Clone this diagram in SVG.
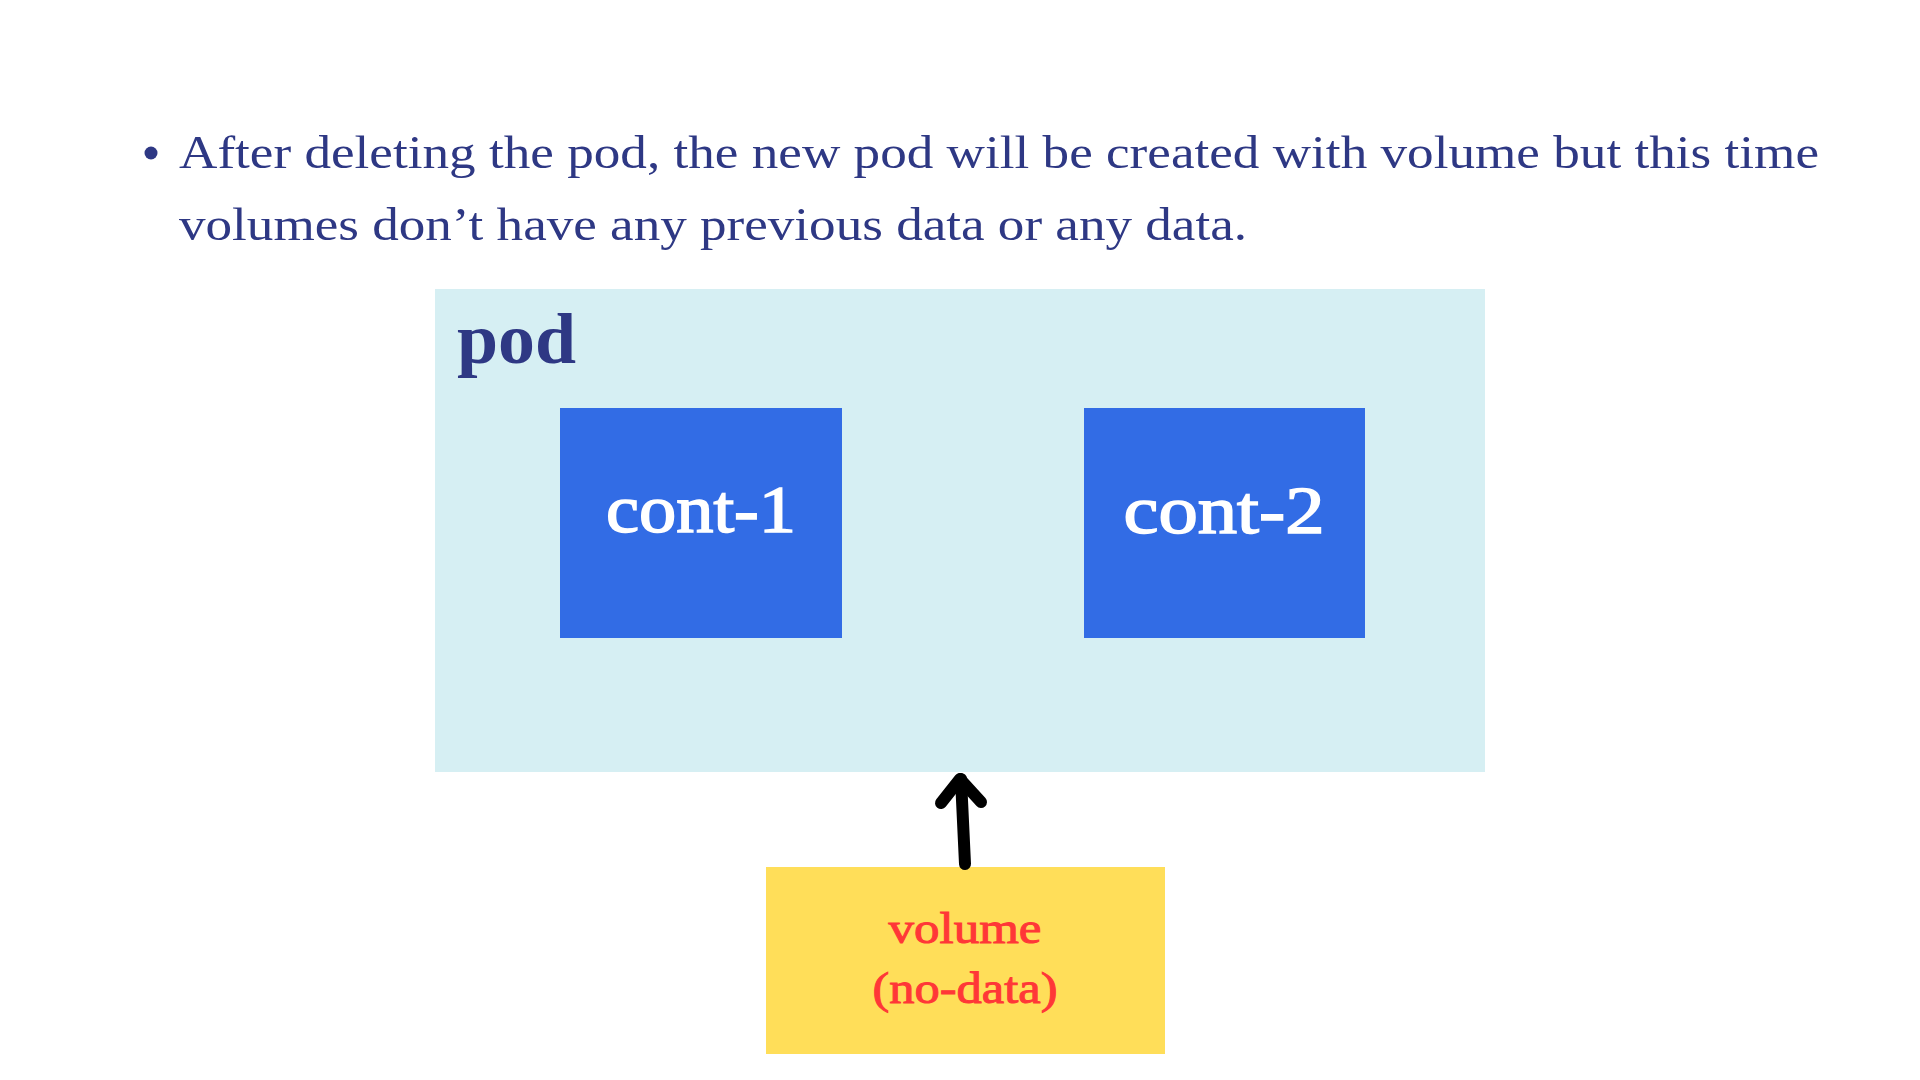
<svg xmlns="http://www.w3.org/2000/svg" width="1920" height="1080" viewBox="0 0 1920 1080">
<style>
.body{font-family:"Liberation Serif","DejaVu Serif",serif;font-size:46px;fill:#2e3884}
.pod{font-family:"Liberation Serif","DejaVu Serif",serif;font-size:72px;font-weight:bold;fill:#2e3884}
.cont{font-family:"Liberation Serif","DejaVu Serif",serif;font-size:68px;fill:#ffffff;stroke:#ffffff;stroke-width:1.6;text-anchor:middle}
.vol{font-family:"Liberation Serif","DejaVu Serif",serif;font-size:44px;fill:#ff3737;stroke:#ff3737;stroke-width:1;text-anchor:middle}
.contbox{fill:#326ce5}
</style>
<rect width="1920" height="1080" fill="#ffffff"/>
<g id="caption">
<circle cx="151" cy="153" r="6.5" fill="#2e3884"/>
<text class="body" x="179" y="168" textLength="1640" lengthAdjust="spacingAndGlyphs">After deleting the pod, the new pod will be created with volume but this time</text>
<text class="body" x="179" y="240" textLength="1068" lengthAdjust="spacingAndGlyphs">volumes don’t have any previous data or any data.</text>
</g>
<g id="pod">
<rect x="435" y="289" width="1050" height="483" fill="#d6eff3"/>
<text class="pod" x="457" y="363" textLength="119" lengthAdjust="spacingAndGlyphs">pod</text>
</g>
<g id="cont-1">
<rect class="contbox" x="560" y="408" width="282" height="230"/>
<text class="cont" x="701" y="532" textLength="190" lengthAdjust="spacingAndGlyphs">cont-1</text>
</g>
<g id="cont-2">
<rect class="contbox" x="1084" y="408" width="281" height="230"/>
<text class="cont" x="1224" y="533" textLength="201" lengthAdjust="spacingAndGlyphs">cont-2</text>
</g>
<g id="volume">
<rect x="766" y="867" width="399" height="187" fill="#ffde59"/>
<text class="vol" x="965" y="943" textLength="153" lengthAdjust="spacingAndGlyphs">volume</text>
<text class="vol" x="965" y="1003" textLength="185" lengthAdjust="spacingAndGlyphs">(no-data)</text>
</g>
<g id="connectors" fill="none" stroke="#000000" stroke-width="12" stroke-linecap="round" stroke-linejoin="round">
<path d="M965 864 L961 779"/>
<path d="M941 803 L960 779 L981 802"/>
</g>
</svg>
